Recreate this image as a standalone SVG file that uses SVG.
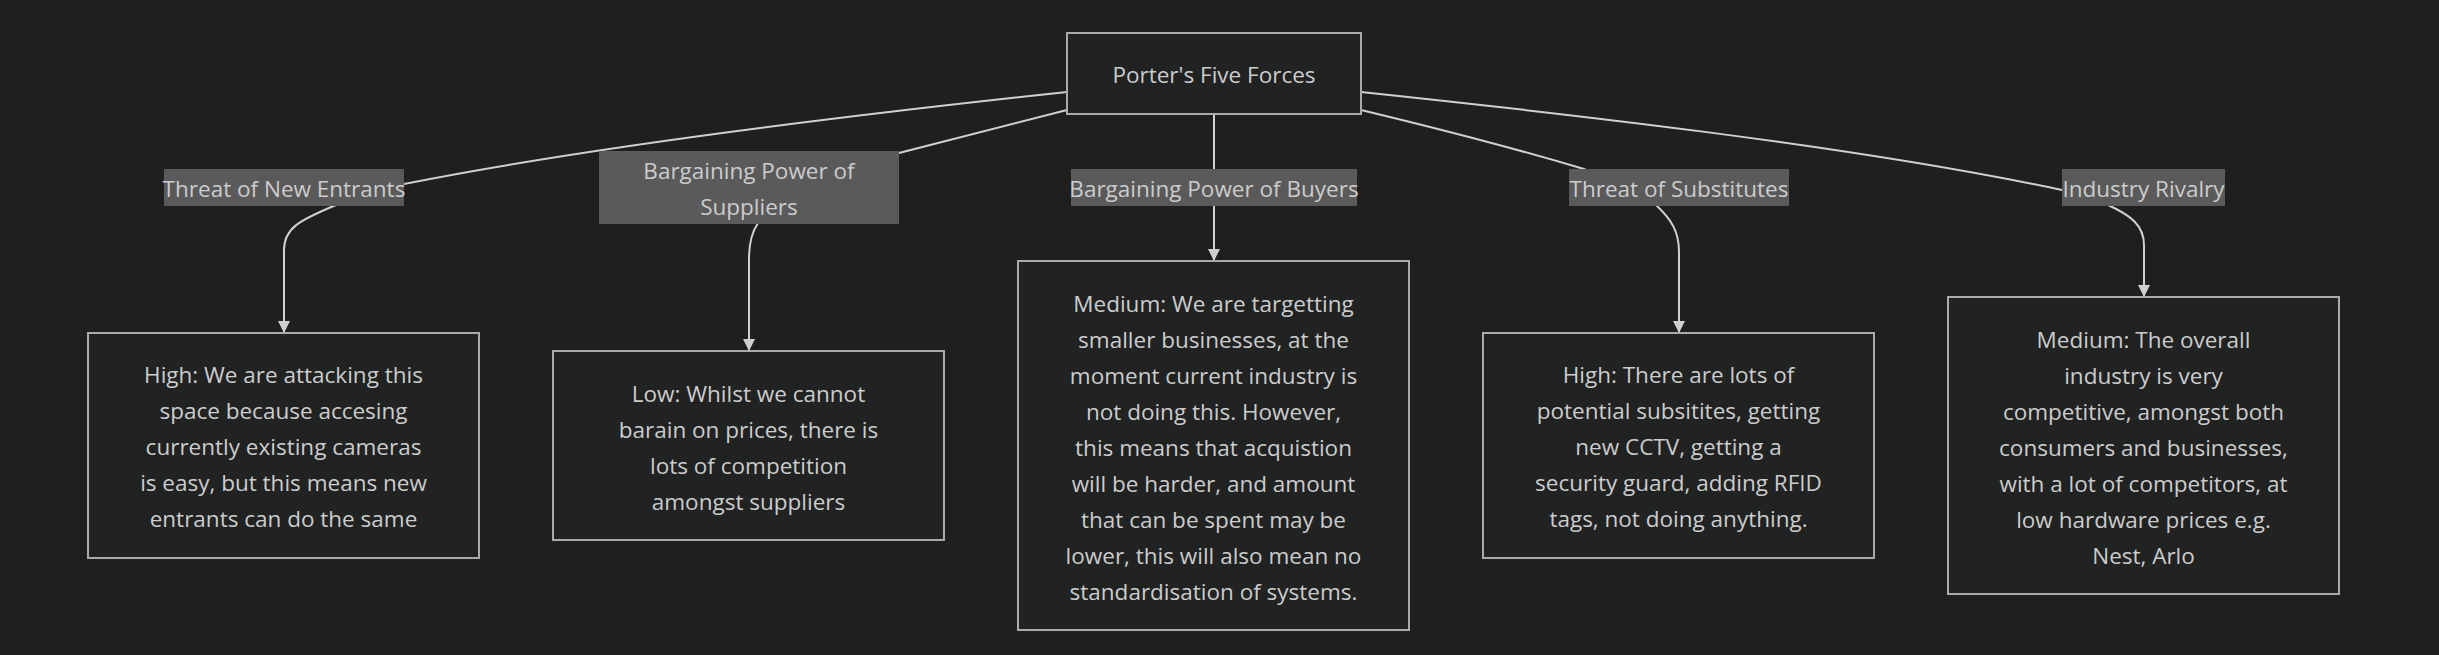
<svg xmlns="http://www.w3.org/2000/svg" width="2439" height="655" viewBox="0 0 2439 655">
<style>
.bg{fill:#1f1f1f}
.node rect{fill:#212222;stroke:#aaaaaa;stroke-width:2}
.edge{fill:none;stroke:#d0d0d0;stroke-width:2}
.lbl rect{fill:#5a5a5a}
text{font-family:"Open Sans",Lato,"Liberation Sans",sans-serif;fill:#cccccc;text-anchor:middle;font-size:22.5px}
.root text{font-size:22.5px}
</style>
<defs>
<marker id="arr" viewBox="0 0 10 10" refX="10" refY="5" markerWidth="12" markerHeight="12" markerUnits="userSpaceOnUse" orient="auto">
<path d="M0,0 L10,5 L0,10 z" fill="#d0d0d0"/>
</marker>
</defs>
<rect class="bg" x="0" y="0" width="2439" height="655"/>
<g id="connectors">
<path class="edge" d="M1067,92 C880,112 600,145 404,184 L336,205 C300,220 284,228 284,250 L284,333" marker-end="url(#arr)"/>
<path class="edge" d="M1067,110 L899,153 L758,223 C752,232 749,242 749,258 L749,351" marker-end="url(#arr)"/>
<path class="edge" d="M1214,114 L1214,261" marker-end="url(#arr)"/>
<path class="edge" d="M1361,110 C1440,129 1520,150 1584,169 L1656,205 C1672,220 1679,232 1679,252 L1679,333" marker-end="url(#arr)"/>
<path class="edge" d="M1361,92 C1550,112 1850,145 2062,190 L2108,205 C2130,215 2144,225 2144,245 L2144,297" marker-end="url(#arr)"/>
</g>
<g id="edge-labels">
<g id="label-new-entrants" class="lbl"><rect x="164" y="169" width="240" height="37"/><text x="284" y="197">Threat of New Entrants</text></g>
<g id="label-suppliers" class="lbl"><rect x="599" y="151" width="300" height="73"/><text x="749" y="179">Bargaining Power of</text><text x="749" y="215">Suppliers</text></g>
<g id="label-buyers" class="lbl"><rect x="1071" y="169" width="286" height="37"/><text x="1214" y="197">Bargaining Power of Buyers</text></g>
<g id="label-substitutes" class="lbl"><rect x="1569" y="169" width="220" height="37"/><text x="1679" y="197">Threat of Substitutes</text></g>
<g id="label-rivalry" class="lbl"><rect x="2062" y="169" width="163" height="37"/><text x="2143.5" y="197">Industry Rivalry</text></g>
</g>
<g id="root" class="node root"><rect x="1067" y="33" width="294" height="81"/><text x="1214" y="83">Porter's Five Forces</text></g>
<g id="new-entrants" class="node"><rect x="88" y="333" width="391" height="225"/>
<text x="283.5" y="383">High: We are attacking this</text>
<text x="283.5" y="419">space because accesing</text>
<text x="283.5" y="455">currently existing cameras</text>
<text x="283.5" y="491">is easy, but this means new</text>
<text x="283.5" y="527">entrants can do the same</text></g>
<g id="suppliers" class="node"><rect x="553" y="351" width="391" height="189"/>
<text x="748.5" y="402">Low: Whilst we cannot</text>
<text x="748.5" y="438">barain on prices, there is</text>
<text x="748.5" y="474">lots of competition</text>
<text x="748.5" y="510">amongst suppliers</text></g>
<g id="buyers" class="node"><rect x="1018" y="261" width="391" height="369"/>
<text x="1213.5" y="312">Medium: We are targetting</text>
<text x="1213.5" y="348">smaller businesses, at the</text>
<text x="1213.5" y="384">moment current industry is</text>
<text x="1213.5" y="420">not doing this. However,</text>
<text x="1213.5" y="456">this means that acquistion</text>
<text x="1213.5" y="492">will be harder, and amount</text>
<text x="1213.5" y="528">that can be spent may be</text>
<text x="1213.5" y="564">lower, this will also mean no</text>
<text x="1213.5" y="600">standardisation of systems.</text></g>
<g id="substitutes" class="node"><rect x="1483" y="333" width="391" height="225"/>
<text x="1678.5" y="383">High: There are lots of</text>
<text x="1678.5" y="419">potential subsitites, getting</text>
<text x="1678.5" y="455">new CCTV, getting a</text>
<text x="1678.5" y="491">security guard, adding RFID</text>
<text x="1678.5" y="527">tags, not doing anything.</text></g>
<g id="rivalry" class="node"><rect x="1948" y="297" width="391" height="297"/>
<text x="2143.5" y="348">Medium: The overall</text>
<text x="2143.5" y="384">industry is very</text>
<text x="2143.5" y="420">competitive, amongst both</text>
<text x="2143.5" y="456">consumers and businesses,</text>
<text x="2143.5" y="492">with a lot of competitors, at</text>
<text x="2143.5" y="528">low hardware prices e.g.</text>
<text x="2143.5" y="564">Nest, Arlo</text></g>
</svg>
